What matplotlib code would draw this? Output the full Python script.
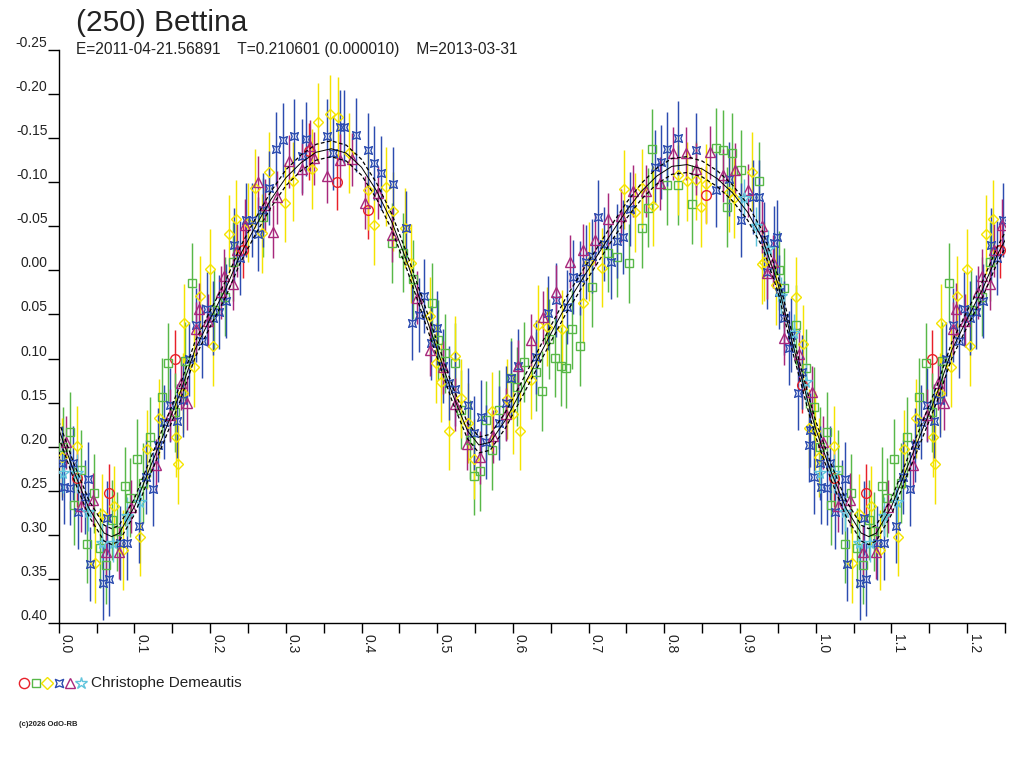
import numpy as np
import matplotlib
matplotlib.use("Agg")
import matplotlib.pyplot as plt
from matplotlib.path import Path
from matplotlib.lines import Line2D

plt.rcParams['font.family'] = ['Liberation Sans', 'DejaVu Sans']

TITLE = "(250) Bettina"
SUBTITLE = "E=2011-04-21.56891    T=0.210601 (0.000010)    M=2013-03-31"
OBSERVER = "Christophe Demeautis"
COPYRIGHT = "(c)2026 OdO-RB"

# ---- fitted curve (phase, relative magnitude) ----
curve_phase = [0.00, 0.02, 0.04, 0.06, 0.07, 0.08, 0.10, 0.12, 0.14, 0.16, 0.18, 0.20,
               0.22, 0.24, 0.26, 0.28, 0.30, 0.32, 0.34, 0.36, 0.38, 0.40, 0.42, 0.44,
               0.46, 0.48, 0.50, 0.52, 0.54, 0.555, 0.57, 0.59, 0.61, 0.63, 0.65, 0.67,
               0.69, 0.71, 0.73, 0.75, 0.77, 0.79, 0.81, 0.83, 0.85, 0.87, 0.89, 0.91,
               0.93, 0.95, 0.97, 0.99, 1.00]
curve_mag = [0.180, 0.228, 0.270, 0.298, 0.302, 0.298, 0.268, 0.225, 0.183, 0.140, 0.090, 0.055,
             0.022, -0.018, -0.050, -0.080, -0.105, -0.122, -0.134, -0.138, -0.133, -0.117, -0.090, -0.055,
             -0.010, 0.040, 0.090, 0.140, 0.182, 0.198, 0.195, 0.170, 0.138, 0.105, 0.072, 0.040,
             0.012, -0.015, -0.042, -0.068, -0.090, -0.107, -0.118, -0.120, -0.115, -0.104, -0.088, -0.066,
             -0.035, 0.015, 0.085, 0.150, 0.180]
curve_band = 0.009

# ---- observations (phase 0..1) ----
red_phase = [0.024, 0.066, 0.154, 0.243, 0.330, 0.367, 0.408, 0.855, 0.982]
red_mag   = [0.236, 0.252, 0.100, -0.023, -0.135, -0.100, -0.068, -0.086, 0.130]

green_phase = [0.006, 0.015, 0.020, 0.030, 0.038, 0.047, 0.054, 0.062, 0.070, 0.077, 0.087, 0.094,
               0.103, 0.112, 0.121, 0.136, 0.145, 0.153, 0.167, 0.176, 0.205, 0.220, 0.230, 0.270,
               0.440, 0.455, 0.468, 0.493, 0.501, 0.510, 0.524, 0.532, 0.543, 0.548, 0.556, 0.564,
               0.573, 0.582, 0.598, 0.606, 0.614, 0.630, 0.639, 0.647, 0.655, 0.663, 0.670, 0.678,
               0.688, 0.705, 0.725, 0.737, 0.753, 0.770, 0.778, 0.784, 0.803, 0.818, 0.836, 0.868,
               0.877, 0.883, 0.890, 0.901, 0.925, 0.952, 0.958, 0.974, 0.987, 0.998]
green_mag = [0.200, 0.183, 0.266, 0.226, 0.310, 0.253, 0.315, 0.334, 0.283, 0.296, 0.245, 0.258,
             0.214, 0.241, 0.189, 0.144, 0.105, 0.161, 0.103, 0.014, 0.045, 0.030, -0.010, -0.060,
             -0.031, -0.020, 0.010, 0.037, 0.079, 0.094, 0.105, 0.158, 0.192, 0.233, 0.228, 0.170,
             0.204, 0.158, 0.122, 0.132, 0.104, 0.115, 0.137, 0.078, 0.099, 0.109, 0.111, 0.067,
             0.086, 0.019, -0.020, -0.015, -0.008, -0.048, -0.071, -0.138, -0.097, -0.097, -0.075, -0.139,
             -0.137, -0.072, -0.133, -0.114, -0.101, 0.000, 0.020, 0.062, 0.111, 0.155]

yellow_phase = [0.004, 0.024, 0.048, 0.057, 0.073, 0.085, 0.108, 0.116, 0.133, 0.155, 0.158, 0.164,
                0.166, 0.179, 0.187, 0.200, 0.204, 0.225, 0.234, 0.250, 0.259, 0.268, 0.278, 0.299,
                0.309, 0.334, 0.342, 0.358, 0.369, 0.384, 0.408, 0.416, 0.433, 0.441, 0.457, 0.466,
                0.491, 0.499, 0.505, 0.515, 0.524, 0.532, 0.540, 0.548, 0.572, 0.592, 0.600, 0.609,
                0.624, 0.633, 0.645, 0.665, 0.692, 0.701, 0.718, 0.747, 0.761, 0.770, 0.785, 0.818,
                0.830, 0.842, 0.848, 0.855, 0.885, 0.892, 0.916, 0.929, 0.932, 0.948, 0.974, 0.983,
                0.991, 0.999]
yellow_mag = [0.212, 0.199, 0.332, 0.276, 0.267, 0.317, 0.302, 0.203, 0.168, 0.189, 0.220, 0.139,
              0.060, 0.110, 0.029, -0.002, 0.086, -0.041, -0.058, -0.054, -0.093, -0.042, -0.112, -0.077,
              -0.101, -0.115, -0.168, -0.177, -0.174, -0.133, -0.091, -0.051, -0.095, -0.067, -0.048, -0.008,
              0.052, 0.105, 0.127, 0.182, 0.097, 0.145, 0.173, 0.214, 0.160, 0.146, 0.163, 0.182,
              0.124, 0.062, 0.064, 0.067, 0.037, -0.010, -0.003, -0.092, -0.066, -0.093, -0.073, -0.108,
              -0.101, -0.102, -0.072, -0.098, -0.089, -0.082, -0.112, -0.007, -0.010, 0.017, 0.030, 0.084,
              0.179, 0.182]

blue_phase = [0.005, 0.007, 0.015, 0.019, 0.026, 0.035, 0.039, 0.041, 0.058, 0.064, 0.066, 0.081,
              0.090, 0.106, 0.115, 0.124, 0.131, 0.139, 0.147, 0.156, 0.164, 0.172, 0.181, 0.189,
              0.196, 0.204, 0.212, 0.221, 0.232, 0.240, 0.247, 0.255, 0.263, 0.270, 0.278, 0.287,
              0.296, 0.311, 0.321, 0.327, 0.354, 0.362, 0.371, 0.377, 0.393, 0.408, 0.417, 0.426,
              0.442, 0.459, 0.467, 0.476, 0.483, 0.492, 0.500, 0.507, 0.515, 0.524, 0.540, 0.549,
              0.558, 0.565, 0.582, 0.591, 0.598, 0.607, 0.630, 0.646, 0.657, 0.672, 0.679, 0.689,
              0.697, 0.705, 0.713, 0.720, 0.730, 0.737, 0.745, 0.754, 0.788, 0.795, 0.803, 0.818,
              0.842, 0.868, 0.885, 0.901, 0.917, 0.925, 0.932, 0.936, 0.945, 0.949, 0.952, 0.958,
              0.965, 0.967, 0.976, 0.982, 0.991, 0.992, 0.998]
blue_mag = [0.219, 0.246, 0.247, 0.219, 0.274, 0.257, 0.237, 0.333, 0.355, 0.281, 0.350, 0.309,
            0.309, 0.290, 0.234, 0.248, 0.198, 0.172, 0.153, 0.171, 0.147, 0.100, 0.062, 0.080,
            0.044, 0.054, 0.047, 0.035, -0.029, -0.014, -0.057, -0.057, -0.041, -0.068, -0.093, -0.138,
            -0.148, -0.152, -0.130, -0.149, -0.152, -0.133, -0.163, -0.163, -0.154, -0.137, -0.122, -0.110,
            -0.098, -0.048, 0.060, 0.051, 0.029, 0.082, 0.065, 0.108, 0.128, 0.135, 0.153, 0.185,
            0.166, 0.195, 0.173, 0.150, 0.122, 0.109, 0.098, 0.048, 0.034, 0.041, 0.007, 0.009,
            -0.010, -0.016, -0.061, -0.030, -0.010, -0.033, -0.038, -0.070, -0.117, -0.123, -0.138, -0.150,
            -0.137, -0.091, -0.104, -0.057, -0.083, -0.083, -0.036, 0.002, -0.031, -0.038, 0.025, 0.054,
            0.088, 0.073, 0.139, 0.115, 0.198, 0.181, 0.234]

purple_phase = [0.010, 0.029, 0.045, 0.062, 0.080, 0.096, 0.129, 0.147, 0.161, 0.170, 0.181, 0.185,
                0.197, 0.214, 0.219, 0.230, 0.235, 0.246, 0.263, 0.272, 0.283, 0.288, 0.304, 0.321,
                0.332, 0.337, 0.354, 0.372, 0.388, 0.405, 0.422, 0.440, 0.473, 0.490, 0.507, 0.523,
                0.539, 0.556, 0.574, 0.591, 0.607, 0.624, 0.640, 0.657, 0.676, 0.692, 0.709, 0.725,
                0.743, 0.758, 0.776, 0.794, 0.811, 0.828, 0.842, 0.860, 0.878, 0.894, 0.911, 0.929,
                0.936, 0.944, 0.958, 0.978, 0.995]
purple_mag = [0.195, 0.267, 0.260, 0.320, 0.320, 0.268, 0.221, 0.164, 0.128, 0.151, 0.066, 0.044,
              0.057, 0.025, 0.006, 0.015, -0.023, -0.051, -0.100, -0.074, -0.044, -0.083, -0.124, -0.115,
              -0.141, -0.127, -0.107, -0.125, -0.126, -0.077, -0.088, -0.040, 0.031, 0.090, 0.110, 0.152,
              0.197, 0.212, 0.188, 0.163, 0.109, 0.079, 0.053, 0.024, -0.010, -0.023, -0.035, -0.058,
              -0.062, -0.090, -0.090, -0.099, -0.133, -0.133, -0.115, -0.134, -0.108, -0.114, -0.091, -0.050,
              0.003, -0.010, 0.077, 0.095, 0.138]

cyan_phase = [0.006, 0.024, 0.039, 0.057, 0.072, 0.090, 0.107, 0.905, 0.921, 0.937, 0.954, 0.971, 0.987]
cyan_mag   = [0.230, 0.230, 0.274, 0.309, 0.309, 0.279, 0.263, -0.082, -0.050, -0.024, 0.029, 0.071, 0.127]

# ---- styling ----
concave = Path([(-1, -1), (0, -0.6), (1, -1), (0.6, 0), (1, 1), (0, 0.6), (-1, 1), (-0.6, 0), (-1, -1)],
               [Path.MOVETO] + [Path.LINETO] * 7 + [Path.CLOSEPOLY])

series = [
    (red_phase, red_mag, '#e8202a', 'o', 7.0, 0.032),
    (green_phase, green_mag, '#58b848', 's', 5.6, 0.045),
    (yellow_phase, yellow_mag, '#f4e400', 'D', 5.4, 0.045),
    (blue_phase, blue_mag, '#2c4cb0', concave, 5.6, 0.042),
    (purple_phase, purple_mag, '#a8287c', '^', 6.6, 0.030),
    (cyan_phase, cyan_mag, '#60c4dc', '*', 8.5, 0.022),
]

PH_EXT = 0.25  # phases below this are repeated after 1.0

fig = plt.figure(figsize=(10.24, 7.68), dpi=100)
ax = fig.add_axes([58.7 / 1024, 1 - 623 / 768, (1005 - 58.7) / 1024, (623 - 50) / 768])

for ph, mg, col, mk, ms, err in series:
    ph = np.asarray(ph)
    mg = np.asarray(mg)
    sel = ph < PH_EXT
    x = np.concatenate([ph, ph[sel] + 1.0])
    y = np.concatenate([mg, mg[sel]])
    ax.errorbar(x, y, yerr=err, fmt='none', ecolor=col, elinewidth=1.05, capsize=0, zorder=2)
    ax.plot(x, y, linestyle='none', marker=mk, ms=ms, mfc='none', mec=col, mew=1.0, zorder=3)

cp = np.asarray(curve_phase)
cm = np.asarray(curve_mag)
sel = (cp > 0) & (cp <= PH_EXT + 0.01)
cx = np.concatenate([cp, cp[sel] + 1.0])
cy = np.concatenate([cm, cm[sel]])
ax.plot(cx, cy, color='black', lw=0.7, zorder=4)
ax.plot(cx, cy - curve_band, color='black', lw=0.9, ls=(0, (3, 2)), zorder=4)
ax.plot(cx, cy + curve_band, color='black', lw=0.9, ls=(0, (3, 2)), zorder=4)

ax.set_xlim(0, 1.25)
ax.set_ylim(0.40, -0.25)

for s in ['top', 'right']:
    ax.spines[s].set_visible(False)
for s in ['left', 'bottom']:
    ax.spines[s].set_linewidth(1.0)
    ax.spines[s].set_color('black')

yt = [round(v, 2) + 0.0 for v in np.arange(-0.25, 0.401, 0.05)]
ax.set_yticks(yt)
ax.set_yticklabels(["%.2f" % (0.0 if abs(v) < 1e-9 else v) for v in yt])
xt = [round(v, 1) for v in np.arange(0.0, 1.21, 0.1)]
ax.set_xticks(xt)
ax.set_xticklabels(["%.1f" % v for v in xt])
ax.set_xticks([round(v, 2) for v in np.arange(0.05, 1.26, 0.1)], minor=True)

ax.tick_params(axis='y', direction='out', length=8, width=1, pad=0, labelsize=10, labelcolor='#222222')
ax.tick_params(axis='x', which='both', direction='out', length=7, width=1, pad=1, labelsize=10,
               labelcolor='#222222', labelrotation=-90)
for lab in ax.get_yticklabels():
    lab.set_verticalalignment('bottom')
for lab in ax.get_xticklabels():
    lab.set_horizontalalignment('left')

fig.text(76 / 1024, 1 - 31 / 768, TITLE, fontsize=21.5, color='#222222', va='baseline', ha='left')
fig.text(76 / 1024, 1 - 54 / 768, SUBTITLE, fontsize=11.2, color='#222222', va='baseline', ha='left')

# legend row
leg_x = [24, 35.5, 47, 58.5, 70, 81]
for (ph, mg, col, mk, ms, err), lx in zip(series, leg_x):
    fig.add_artist(Line2D([lx / 1024], [1 - 683 / 768], marker=mk, ms=ms * 1.05, mfc='none', mec=col,
                          mew=1.0, linestyle='none', transform=fig.transFigure))
fig.text(91 / 1024, 1 - 683 / 768, OBSERVER, fontsize=11, color='#222222', va='center', ha='left')
fig.text(19 / 1024, 1 - 725 / 768, COPYRIGHT, fontsize=5.5, color='#222222', va='center', ha='left',
         fontweight='bold')

fig.savefig('out.png', dpi=100)
